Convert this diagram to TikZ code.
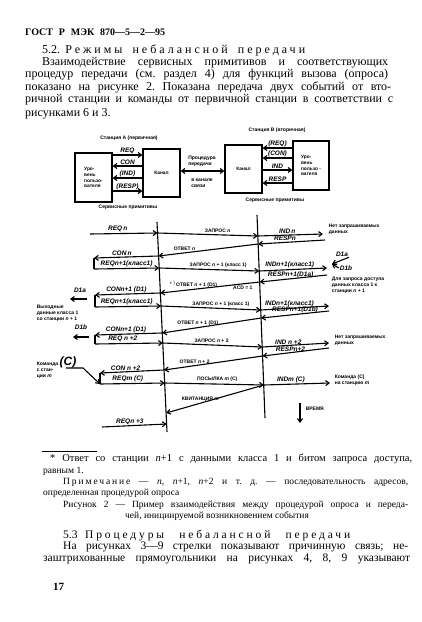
\documentclass[tikz,border=0pt]{standalone}
\usepackage{fontspec}
\setmainfont{Liberation Serif}
\setsansfont{Liberation Sans}
\usetikzlibrary{arrows.meta}
\frenchspacing

\tikzset{
  line/.style={line width=1.1pt},
  msg/.style={line width=1.1pt,-{Straight Barb[length=3.5pt,width=5pt]}},
  box/.style={draw,line width=1.1pt,inner sep=1pt,align=left,font=\sffamily\bfseries\fontsize{4.8}{5.8}\selectfont},
  tiny/.style={font=\sffamily\bfseries\fontsize{5}{5.9}\selectfont,inner sep=0.6pt,align=left},
  prim/.style={font=\sffamily\bfseries\itshape\fontsize{6.5}{7}\selectfont,inner sep=0.8pt},
  body/.style={anchor=base west,inner sep=0pt,font=\fontsize{12}{13}\selectfont},
  note/.style={body,font=\fontsize{9.5}{10}\selectfont},
}

\begin{document}
\begin{tikzpicture}[x=1pt,y=-1pt]
\fill[white] (0,0) rectangle (422,622);
\useasboundingbox (0,0) rectangle (422,622);

% Page text
\node[body,font=\fontsize{10}{11}\selectfont] (t-head) at (25,35) {\makebox[140pt][s]{\bfseries ГОСТ Р МЭК 870—5—2—95}};
\node[body] (t-sec) at (42,53) {\makebox[263pt][s]{5.2. {\addfontfeature{LetterSpace=25}Режимы небалансной передачи}}};
\node[body] (t-1) at (42,65) {\makebox[346pt][s]{Взаимодействие сервисных примитивов и соответствующих}};
\node[body] (t-2) at (25,77.5) {\makebox[363pt][s]{процедур передачи (см. раздел 4) для функций вызова (опроса)}};
\node[body] (t-3) at (25,90) {\makebox[366pt][s]{показано на рисунке 2. Показана передача двух событий от вто-}};
\node[body] (t-4) at (25,102.5) {\makebox[368pt][s]{ричной станции и команды от первичной станции в соответствии с}};
\node[body] (t-5) at (25,116) {рисунками 6 и 3.};

% Boxes
\node[tiny] (st-a) at (129,138) {Станция А (первичная)};
\node[tiny] (st-b) at (277,130) {Станция В (вторичная)};
\node[box,minimum width=37pt,minimum height=49pt] (a-user) at (93.5,177.5) {Уро-\\вень\\пользо-\\вателя};
\node[box,minimum width=37pt,minimum height=48pt] (a-chan) at (161.5,173) {Канал};
\node[box,minimum width=37pt,minimum height=48pt] (b-chan) at (243.5,169) {Канал};
\node[box,minimum width=36pt,minimum height=49pt] (b-user) at (311,165.5) {Уро-\\вень\\пользо -\\вателя};
\node[tiny] (sp-a) at (128,207) {Сервисные примитивы};
\node[tiny] (sp-b) at (275,200) {Сервисные примитивы};

% Primitives
\draw[msg] (a-user.east |- 0,155) to node[prim,above] {REQ} (a-chan.west |- 0,155);
\draw[msg] (a-chan.west |- 0,166) to node[prim,above] {CON} (a-user.east |- 0,166);
\draw[msg] (a-chan.west |- 0,178) to node[prim,above] {(IND)} (a-user.east |- 0,178);
\draw[msg] (a-user.east |- 0,191) to node[prim,above] {(RESP)} (a-chan.west |- 0,191);
\draw[msg] (b-user.west |- 0,148) to node[prim,above] {(REQ)} (b-chan.east |- 0,148);
\draw[msg] (b-user.west |- 0,158) to node[prim,above] {(CON)} (b-chan.east |- 0,158);
\draw[msg] (b-chan.east |- 0,170) to node[prim,above] {IND} (b-user.west |- 0,170);
\draw[msg] (b-user.west |- 0,183) to node[prim,above] {RESP} (b-chan.east |- 0,183);
\draw[line,{Straight Barb[length=3.5pt,width=5pt]}-{Straight Barb[length=3.5pt,width=5pt]}] (a-chan.east |- 0,171) -- (b-chan.west |- 0,171);
\node[tiny] (link-top) at (202,161) {Процедура\\передачи};
\node[tiny] (link-bot) at (202,183) {в канале\\связи};

% Timelines
\coordinate (a-start) at (157,222);
\coordinate (a-end)   at (167,432);
\coordinate (b-start) at (257,215);
\coordinate (b-end)   at (265,418);
\draw[line] (a-start) -- (a-end);
\draw[line] (b-start) -- (b-end);

\coordinate (a0) at (157.5,233);
\coordinate (a1) at (158.6,256);
\coordinate (a2) at (159.2,268);
\coordinate (a3) at (160.4,293);
\coordinate (a4) at (161,306);
\coordinate (a5) at (162.3,333);
\coordinate (a6) at (162.8,343);
\coordinate (a7) at (164.1,370);
\coordinate (a8) at (164.7,383);
\coordinate (a9) at (166.2,413);
\coordinate (a10) at (166.7,424);

\coordinate (b0) at (257.8,236);
\coordinate (b1) at (258.2,244);
\coordinate (b2) at (259.2,271);
\coordinate (b3) at (259.7,282);
\coordinate (b4) at (260.8,310);
\coordinate (b5) at (261.1,318);
\coordinate (b6) at (262.3,347);
\coordinate (b7) at (262.6,356);
\coordinate (b8) at (263.8,385);

% Messages between stations
\draw[msg] (a0) to node[tiny,above=1pt,pos=0.6] {ЗАПРОС \textit{n}} (b0);
\draw[msg] (b1) to node[tiny,above=1pt,pos=0.74] {ОТВЕТ \textit{n}} (a1);
\draw[msg] (a2) to node[tiny,above=1pt,pos=0.59] {ЗАПРОС \textit{n} + 1 (класс 1)} (b2);
\draw[msg] (b3) to node[tiny,above=1pt,pos=0.67] {$^{*)}$ОТВЕТ \textit{n} + 1 (D1)} (a3);
\path (b3) to node[tiny,below=1pt,pos=0.17] {ACD = 1} (a3);
\draw[msg] (a4) to node[tiny,above=1pt,pos=0.6] {ЗАПРОС \textit{n} + 1 (класс 1)} (b4);
\draw[msg] (b5) to node[tiny,above=1pt,pos=0.64] {ОТВЕТ \textit{n} + 1 (D1)} (a5);
\draw[msg] (a6) to node[tiny,above=1pt,pos=0.49] {ЗАПРОС \textit{n} + 2} (b6);
\draw[msg] (b7) to node[tiny,above=1pt,pos=0.69] {ОТВЕТ \textit{n} + 2} (a7);
\draw[msg] (a8) to node[tiny,above=1pt,pos=0.53] {ПОСЫЛКА \textit{m} (C)} (b8);
\draw[msg] (b8) to node[tiny,above=1pt,pos=0.65] {КВИТАНЦИЯ \textit{m}} (a9);

% Station A side
\coordinate (req0) at (90,234);
\coordinate (con0) at (94,258);
\coordinate (req1) at (94,269);
\coordinate (con1) at (95,295);
\coordinate (req2) at (95,307);
\coordinate (con2) at (95,335);
\coordinate (req3) at (95,344);
\coordinate (con3) at (100,373);
\coordinate (reqm) at (100,384);
\coordinate (req4) at (102,427);
\draw[msg] (req0) to node[prim,above,pos=0.41] {REQ\,n} (a0);
\draw[msg] (a1) to node[prim,above,pos=0.57] {CON\,n} (con0);
\draw[line] (con0) -- (req1);
\draw[msg] (req1) to node[prim,above,pos=0.5] {REQn+1(класс1)} (a2);
\draw[msg] (a3) to node[prim,above,pos=0.52] {CONn+1 (D1)} (con1);
\draw[line] (con1) -- (req2);
\draw[msg] (req2) to node[prim,above,pos=0.48] {REQn+1(класс1)} (a4);
\draw[msg] (a5) to node[prim,above,pos=0.54] {CONn+1 (D1)} (con2);
\draw[line] (con2) -- (req3);
\draw[msg] (req3) to node[prim,above,pos=0.41] {REQ n +2} (a6);
\draw[msg] (a7) to node[prim,above,pos=0.6] {CON n +2} (con3);
\draw[line] (con3) -- (reqm);
\draw[msg] (reqm) to node[prim,above,pos=0.43] {REQm (C)} (a8);
\draw[msg] (req4) to node[prim,above,pos=0.43] {REQn +3} (a10);

\node[prim] (d1a-l) at (80,290) {D1a};
\coordinate (d1a-from) at (87,299);
\coordinate (d1a-to) at (70,299);
\draw[msg] (d1a-from) -- (d1a-to);
\node[tiny,anchor=north west] (out-l) at (36,304) {Выходные\\данные класса 1\\со станции \textit{n} + 1};
\node[prim] (d1b-l) at (81,327) {D1b};
\coordinate (d1b-from) at (89,337);
\coordinate (d1b-to) at (73,337);
\draw[msg] (d1b-from) -- (d1b-to);
\node[tiny,anchor=north west] (cmd-l) at (36,356) {Команда \textit{\large(C)}\\с стан-\\ции \textit{m}};
\coordinate (cmd0) at (66,368);
\coordinate (cmd1) at (83,368);
\draw[msg] (cmd0) -- (cmd1) -- (reqm);

% Station B side
\coordinate (ind0) at (323,234);
\coordinate (resp0) at (325,240);
\coordinate (ind1) at (327,268);
\coordinate (resp1) at (327,275);
\coordinate (ind2) at (329,306);
\coordinate (resp2) at (329,311);
\coordinate (ind3) at (329,343);
\coordinate (resp3) at (329,348);
\coordinate (indm) at (330,383);
\draw[msg] (b0) to node[prim,above,pos=0.45] {IND\,n} (ind0);
\draw[msg] (resp0) to node[prim,above,pos=0.6] {RESPn} (b1);
\draw[msg] (b2) to node[prim,above,pos=0.45] {INDn+1(класс1)} (ind1);
\draw[msg] (resp1) to node[prim,above,pos=0.54] {RESPn+1(D1a)} (b3);
\draw[msg] (b4) to node[prim,above,pos=0.42] {INDn+1(класс1)} (ind2);
\draw[msg] (resp2) to node[prim,above,pos=0.5] {RESPn+1(D1b)} (b5);
\draw[msg] (b6) to node[prim,above,pos=0.39] {IND n +2} (ind3);
\draw[msg] (resp3) to node[prim,above,pos=0.58] {RESPn+2} (b7);
\draw[msg] (b8) to node[prim,above,pos=0.41] {INDm (C)} (indm);

\node[tiny,anchor=west] (none-0) at (328,229) {Нет запрашиваемых\\данных};
\node[prim] (d1a-r) at (342,254) {D1a};
\node[prim] (d1b-r) at (346,268) {D1b};
\coordinate (d1-tip) at (332,264);
\draw[msg] (d1a-r.south east) -- (d1-tip);
\draw[msg] (d1b-r.west) -- (d1-tip);
\node[tiny,anchor=north west] (ask-r) at (331,276) {Для запроса доступа\\данных класса 1 к\\станции \textit{n} + 1};
\node[tiny,anchor=west] (none-2) at (334,340) {Нет запрашиваемых\\данных};
\node[tiny,anchor=west] (cmd-r) at (334,380) {Команда (C)\\на станцию \textit{m}};

% Time
\coordinate (time-a) at (300,403);
\coordinate (time-b) at (300,423);
\draw[msg] (time-a) -- (time-b);
\node[tiny,anchor=west] (time) at (305,409) {ВРЕМЯ};

% Footnote and text below
\draw[line width=0.6pt] (42,451) -- (97,451);
\node[body,font=\fontsize{10.5}{11}\selectfont] (f-1) at (50,461) {\makebox[362pt][s]{* Ответ со станции \textit{n}+1 с данными класса 1 и битом запроса доступа,}};
\node[note] (f-2) at (43,473) {равным 1.};
\node[note] (f-3) at (63,484) {\makebox[345pt][s]{{\addfontfeature{LetterSpace=20}Примечание} — \textit{n}, \textit{n}+1, \textit{n}+2 и т. д. — последовательность адресов,}};
\node[note] (f-4) at (43,495) {определенная процедурой опроса};
\node[note] (f-5) at (63,507) {\makebox[345pt][s]{Рисунок 2 — Пример взаимодействия между процедурой опроса и переда-}};
\node[note] (f-6) at (125,518) {чей, инициируемой возникновением события};
\node[body,font=\fontsize{11.5}{12}\selectfont] (f-7) at (63,538) {\makebox[287pt][s]{5.3 {\addfontfeature{LetterSpace=25}Процедуры небалансной передачи}}};
\node[body,font=\fontsize{11.5}{12}\selectfont] (f-8) at (63,549) {\makebox[345pt][s]{На рисунках 3—9 стрелки показывают причинную связь; не-}};
\node[body,font=\fontsize{11.5}{12}\selectfont] (f-9) at (43,561) {\makebox[367pt][s]{заштрихованные прямоугольники на рисунках 4, 8, 9 указывают}};
\node[body,font=\fontsize{11}{12}\selectfont] (f-10) at (53,590) {\bfseries 17};

\end{tikzpicture}
\end{document}
